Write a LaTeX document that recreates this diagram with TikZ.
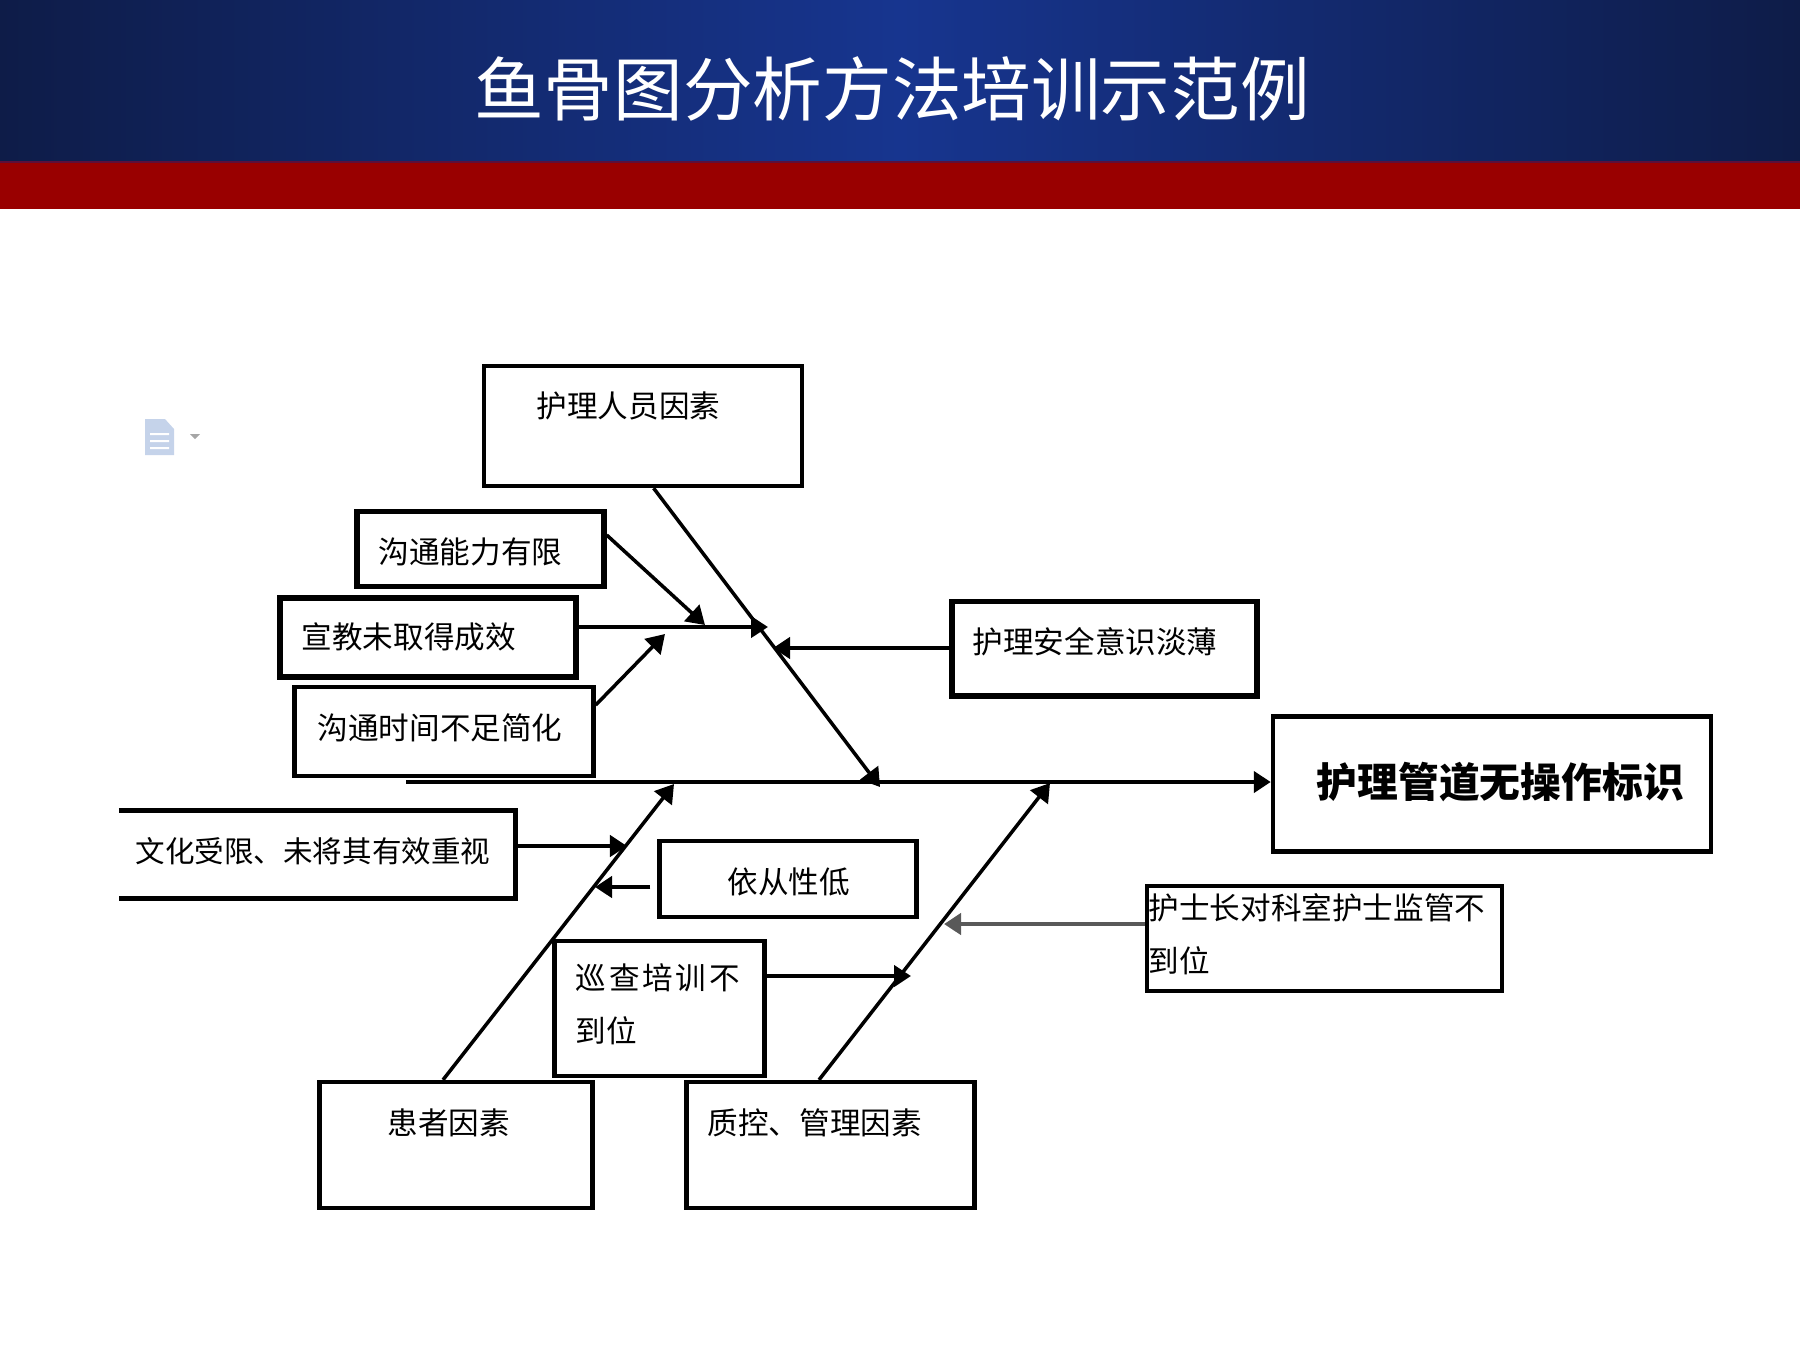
\documentclass[tikz,border=0pt]{standalone}
\usepackage{fontspec}
\usepackage{xcolor}
\usetikzlibrary{arrows.meta}
\setmainfont{Noto Sans CJK SC}
\newfontfamily\spacedfont[LetterSpace=9]{Noto Sans CJK SC}
\definecolor{header-dark}{HTML}{0E1C48}
\definecolor{header-blue}{HTML}{17358F}
\definecolor{band-red}{HTML}{990000}
\definecolor{band-edge}{HTML}{5E0F3A}
\definecolor{icon-blue}{HTML}{C5D3EA}
\tikzset{
    bone-box/.style = {draw=black, fill=white, line width=1.2pt, rectangle, inner sep=0pt},
    bold-box/.style = {bone-box, line width=1.5pt},
    box-text/.style = {anchor=west, inner sep=0pt, align=left, font=\fontsize{8.7pt}{15pt}\selectfont},
    bone-line/.style = {line width=1pt, -{Triangle[length=1.8mm,width=2.2mm]}},
    side-arrow/.style = {line width=1.2pt, -{Triangle[length=1.7mm,width=2.1mm]}},
}
\begin{document}
\begin{tikzpicture}[x=0.01cm, y=-0.01cm]
\useasboundingbox (0,0) rectangle (1800,1350);
% header
\shade [left color=header-dark, right color=header-dark, middle color=header-blue] (0,0) rectangle (1800,161);
\fill [band-red] (0,161) rectangle (1800,209);
\fill [band-edge] (0,161) rectangle (1800,163);
\node [text=white, inner sep=0pt, font=\fontsize{19.8pt}{24pt}\selectfont] (title) at (892,89) {鱼骨图分析方法培训示范例};
% file icon
\fill [icon-blue] (145,419) -- (165,419) -- (174,429) -- (174,455) -- (145,455) -- cycle;
\fill [white] (150,433) rectangle (169,435) (150,440) rectangle (169,442) (150,447) rectangle (169,449);
\fill [gray!70] (190,434) -- (200,434) -- (195,439) -- cycle;
% main boxes
\node [bone-box, minimum width=3.175cm, minimum height=1.2cm] (staff) at (643,426) {};
\node [bone-box, minimum width=2.73cm, minimum height=1.26cm] (patient) at (456,1145) {};
\node [bone-box, minimum width=2.88cm, minimum height=1.26cm] (quality) at (830.5,1145) {};
\node [bone-box, minimum width=4.38cm, minimum height=1.35cm] (result) at (1492,784) {};
\node [box-text] (staff-text) at (536,406) {护理人员因素};
\node [box-text] (patient-text) at (387,1123) {患者因素};
\node [box-text] (quality-text) at (707,1123) {质控、管理因素};
\node [box-text, font=\fontsize{11.6pt}{16pt}\bfseries] (result-text) at (1316,782) {护理管道无操作标识};
% cause boxes
\node [bold-box, minimum width=2.47cm, minimum height=0.75cm] (talk) at (480.5,549) {};
\node [bold-box, minimum width=2.96cm, minimum height=0.79cm] (teach) at (428,637.5) {};
\node [bone-box, minimum width=2.99cm, minimum height=0.89cm] (time) at (444,731.5) {};
\node [bold-box, minimum width=3.05cm, minimum height=0.945cm] (safety) at (1104.5,648.75) {};
\node [bone-box, minimum width=3.55cm, minimum height=1.05cm] (head) at (1324.5,938.5) {};
\node [bone-box, minimum width=2.57cm, minimum height=0.76cm] (comply) at (788,879) {};
\node [bone-box, minimum width=2.1cm, minimum height=1.35cm] (patrol) at (659.5,1008.5) {};
\node [minimum width=3.945cm, minimum height=0.86cm, inner sep=0pt] (culture) at (317,854.5) {};
\draw [bone-box, fill=none, line width=1.4pt] (culture.north west) -- (culture.north east) -- (culture.south east) -- (culture.south west);
\node [box-text] (talk-text) at (378,552) {沟通能力有限};
\node [box-text] (teach-text) at (301,637) {宣教未取得成效};
\node [box-text] (time-text) at (317,728) {沟通时间不足简化};
\node [box-text] (safety-text) at (972,642) {护理安全意识淡薄};
\node [box-text, anchor=north west] (head-text) at (1148,893) {护士长对科室护士监管不\\到位};
\node [box-text] (comply-text) at (727,882) {依从性低};
\node [box-text, anchor=north west] (patrol-text) at (575,963) {{\spacedfont 巡查培训不}\\到位};
\node [box-text, font=\fontsize{8.4pt}{15pt}\selectfont] (culture-text) at (135,851) {文化受限、未将其有效重视};
% bone ends
\coordinate (spine-tail) at (406,782);
\coordinate (staff-tip) at (880,787);
\coordinate (patient-tip) at (674,784);
\coordinate (quality-tip) at (1050,783);
\coordinate (talk-tip) at (705,625);
\coordinate (teach-tip) at (768,627);
\coordinate (time-tip) at (665,634);
\coordinate (safety-tip) at (773,648);
\coordinate (culture-tip) at (627,846);
\coordinate (comply-tip) at (595,887);
\coordinate (patrol-tip) at (911,976);
\coordinate (head-tip) at (944,924);
% spine and bones
\draw [side-arrow] (spine-tail) -- (result.west |- spine-tail);
\draw [bone-line] ([xshift=0.106cm]staff.south) -- (staff-tip);
\draw [bone-line] ([xshift=-0.13cm]patient.north) -- (patient-tip);
\draw [bone-line] ([xshift=-0.115cm]quality.north) -- (quality-tip);
% causes
\draw [bone-line] (talk.east |- 0,535) -- (talk-tip);
\draw [side-arrow] (teach.east |- teach-tip) -- (teach-tip);
\draw [bone-line] (time.east |- 0,705) -- (time-tip);
\draw [side-arrow] (safety.west |- safety-tip) -- (safety-tip);
\draw [side-arrow] (culture.east |- culture-tip) -- (culture-tip);
\draw [side-arrow, shorten <=0.07cm] (comply.west |- comply-tip) -- (comply-tip);
\draw [side-arrow] (patrol.east |- patrol-tip) -- (patrol-tip);
\draw [side-arrow, black!65] (head.west |- head-tip) -- (head-tip);
\end{tikzpicture}
\end{document}
